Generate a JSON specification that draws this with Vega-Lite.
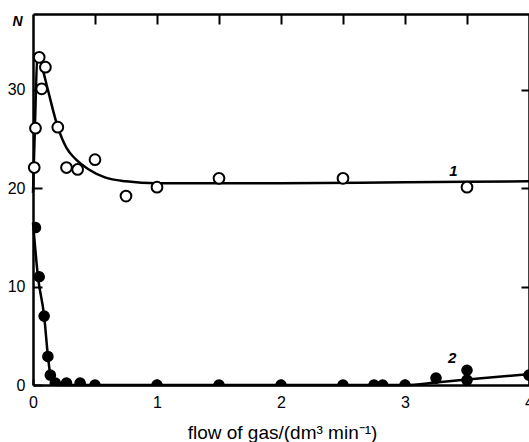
{
  "$schema": "https://vega.github.io/schema/vega-lite/v6.json",
  "width": 496,
  "height": 371,
  "autosize": {"type": "none"},
  "padding": {"left": 33, "top": 14, "right": 0, "bottom": 57},
  "config": {"view": {"stroke": null}, "font": "Liberation Sans", "background": "white"},
  "datasets": {
    "curve1": [
      {"x": 0, "y": 19.5}, {"x": 0.015, "y": 26}, {"x": 0.035, "y": 33.2}, {"x": 0.05, "y": 33.3},
      {"x": 0.08, "y": 32}, {"x": 0.12, "y": 30}, {"x": 0.2, "y": 26.2}, {"x": 0.27, "y": 24.1},
      {"x": 0.34, "y": 23}, {"x": 0.45, "y": 21.9}, {"x": 0.58, "y": 21.1}, {"x": 0.75, "y": 20.7},
      {"x": 1, "y": 20.5}, {"x": 2, "y": 20.5}, {"x": 3, "y": 20.6}, {"x": 4, "y": 20.7}
    ],
    "curve2": [
      {"x": 0, "y": 16.5}, {"x": 0.04, "y": 11}, {"x": 0.09, "y": 7}, {"x": 0.12, "y": 3},
      {"x": 0.14, "y": 1}, {"x": 0.16, "y": 0.2}, {"x": 0.2, "y": 0}, {"x": 3.0, "y": 0},
      {"x": 3.25, "y": 0.25}, {"x": 3.5, "y": 0.55}, {"x": 4, "y": 1.1}
    ],
    "open": [
      {"x": 0.01, "y": 22.1}, {"x": 0.02, "y": 26.1}, {"x": 0.05, "y": 33.3}, {"x": 0.07, "y": 30.1},
      {"x": 0.1, "y": 32.3}, {"x": 0.2, "y": 26.2}, {"x": 0.27, "y": 22.1}, {"x": 0.36, "y": 21.9},
      {"x": 0.5, "y": 22.9}, {"x": 0.75, "y": 19.2}, {"x": 1, "y": 20.1}, {"x": 1.5, "y": 21},
      {"x": 2.5, "y": 21}, {"x": 3.5, "y": 20.1}
    ],
    "filled": [
      {"x": 0.02, "y": 16}, {"x": 0.05, "y": 11}, {"x": 0.09, "y": 7}, {"x": 0.12, "y": 2.9},
      {"x": 0.14, "y": 1}, {"x": 0.18, "y": 0.2}, {"x": 0.27, "y": 0.2}, {"x": 0.38, "y": 0.2},
      {"x": 0.5, "y": 0}, {"x": 1, "y": 0}, {"x": 1.5, "y": 0}, {"x": 2, "y": 0}, {"x": 2.5, "y": 0},
      {"x": 2.75, "y": 0}, {"x": 2.82, "y": 0}, {"x": 3, "y": 0}, {"x": 3.25, "y": 0.7},
      {"x": 3.5, "y": 1.5}, {"x": 3.5, "y": 0.5}, {"x": 4, "y": 1.0}
    ],
    "labels": [
      {"x": 3.39, "y": 21.7, "t": "1"},
      {"x": 3.38, "y": 2.7, "t": "2"}
    ]
  },
  "layer": [
    {
      "data": {"name": "curve1"},
      "mark": {"type": "line", "interpolate": "monotone", "color": "black", "strokeWidth": 2.5},
      "encoding": {
        "x": {
          "field": "x", "type": "quantitative",
          "scale": {"domain": [0, 4], "nice": false, "zero": false},
          "axis": {
            "orient": "bottom",
            "values": [0, 0.5, 1, 1.5, 2, 2.5, 3, 3.5, 4],
            "format": "d",
            "labelExpr": "datum.value % 1 === 0 ? format(datum.value, 'd') : ''",
            "grid": false,
            "domainColor": "black", "domainWidth": 2.5,
            "tickColor": "black", "tickWidth": 2, "tickSize": -6,
            "labelFontSize": 16, "labelColor": "black", "labelPadding": 15,
            "labelFlush": false,
            "title": "flow of gas/(dm³ min⁻¹)",
            "titleFontSize": 19, "titleFontWeight": "normal", "titleColor": "black",
            "titleX": 249, "titleY": 53, "titleBaseline": "alphabetic", "titleAnchor": "middle", "titleAlign": "center"
          }
        },
        "y": {
          "field": "y", "type": "quantitative",
          "scale": {"domain": [0, 37.7], "nice": false, "zero": false},
          "axis": {
            "orient": "left",
            "values": [0, 10, 20, 30],
            "format": "d",
            "grid": false,
            "domainColor": "black", "domainWidth": 2.5,
            "tickColor": "black", "tickWidth": 2, "tickSize": -9,
            "labelFontSize": 16, "labelColor": "black", "labelPadding": 17,
            "labelFlush": false,
            "title": "N",
            "titleFontSize": 14, "titleFontWeight": "bold", "titleFontStyle": "italic", "titleColor": "black",
            "titleAngle": 0, "titleX": -16, "titleY": 11, "titleBaseline": "alphabetic", "titleAlign": "center"
          }
        }
      }
    },
    {
      "data": {"name": "curve2"},
      "mark": {"type": "line", "interpolate": "monotone", "color": "black", "strokeWidth": 2.5},
      "encoding": {
        "x": {
          "field": "x", "type": "quantitative",
          "scale": {"domain": [0, 4], "nice": false, "zero": false},
          "axis": {
            "orient": "top",
            "values": [0.5, 1, 1.5, 2, 2.5, 3, 3.5],
            "labels": false, "grid": false, "title": null,
            "domainColor": "black", "domainWidth": 2.5,
            "tickColor": "black", "tickWidth": 2, "tickSize": -10
          }
        },
        "y": {
          "field": "y", "type": "quantitative",
          "scale": {"domain": [0, 37.7], "nice": false, "zero": false},
          "axis": {
            "orient": "right",
            "values": [10, 20, 30],
            "labels": false, "grid": false, "title": null,
            "domainColor": "black", "domainWidth": 2.5,
            "tickColor": "black", "tickWidth": 2, "tickSize": -8
          }
        }
      }
    },
    {
      "data": {"name": "open"},
      "mark": {"type": "point", "shape": "circle", "filled": false, "fill": "white", "fillOpacity": 1, "stroke": "black", "strokeWidth": 2, "size": 115, "opacity": 1},
      "encoding": {
        "x": {"field": "x", "type": "quantitative", "axis": null},
        "y": {"field": "y", "type": "quantitative", "axis": null}
      }
    },
    {
      "data": {"name": "filled"},
      "mark": {"type": "point", "shape": "circle", "filled": true, "color": "black", "size": 135, "opacity": 1, "clip": true},
      "encoding": {
        "x": {"field": "x", "type": "quantitative", "axis": null},
        "y": {"field": "y", "type": "quantitative", "axis": null}
      }
    },
    {
      "data": {"name": "labels"},
      "mark": {"type": "text", "fontSize": 15, "fontWeight": "bold", "fontStyle": "italic", "color": "black", "align": "center", "baseline": "middle"},
      "encoding": {
        "x": {"field": "x", "type": "quantitative", "axis": null},
        "y": {"field": "y", "type": "quantitative", "axis": null},
        "text": {"field": "t"}
      }
    }
  ],
  "resolve": {"axis": {"x": "independent", "y": "independent"}}
}
